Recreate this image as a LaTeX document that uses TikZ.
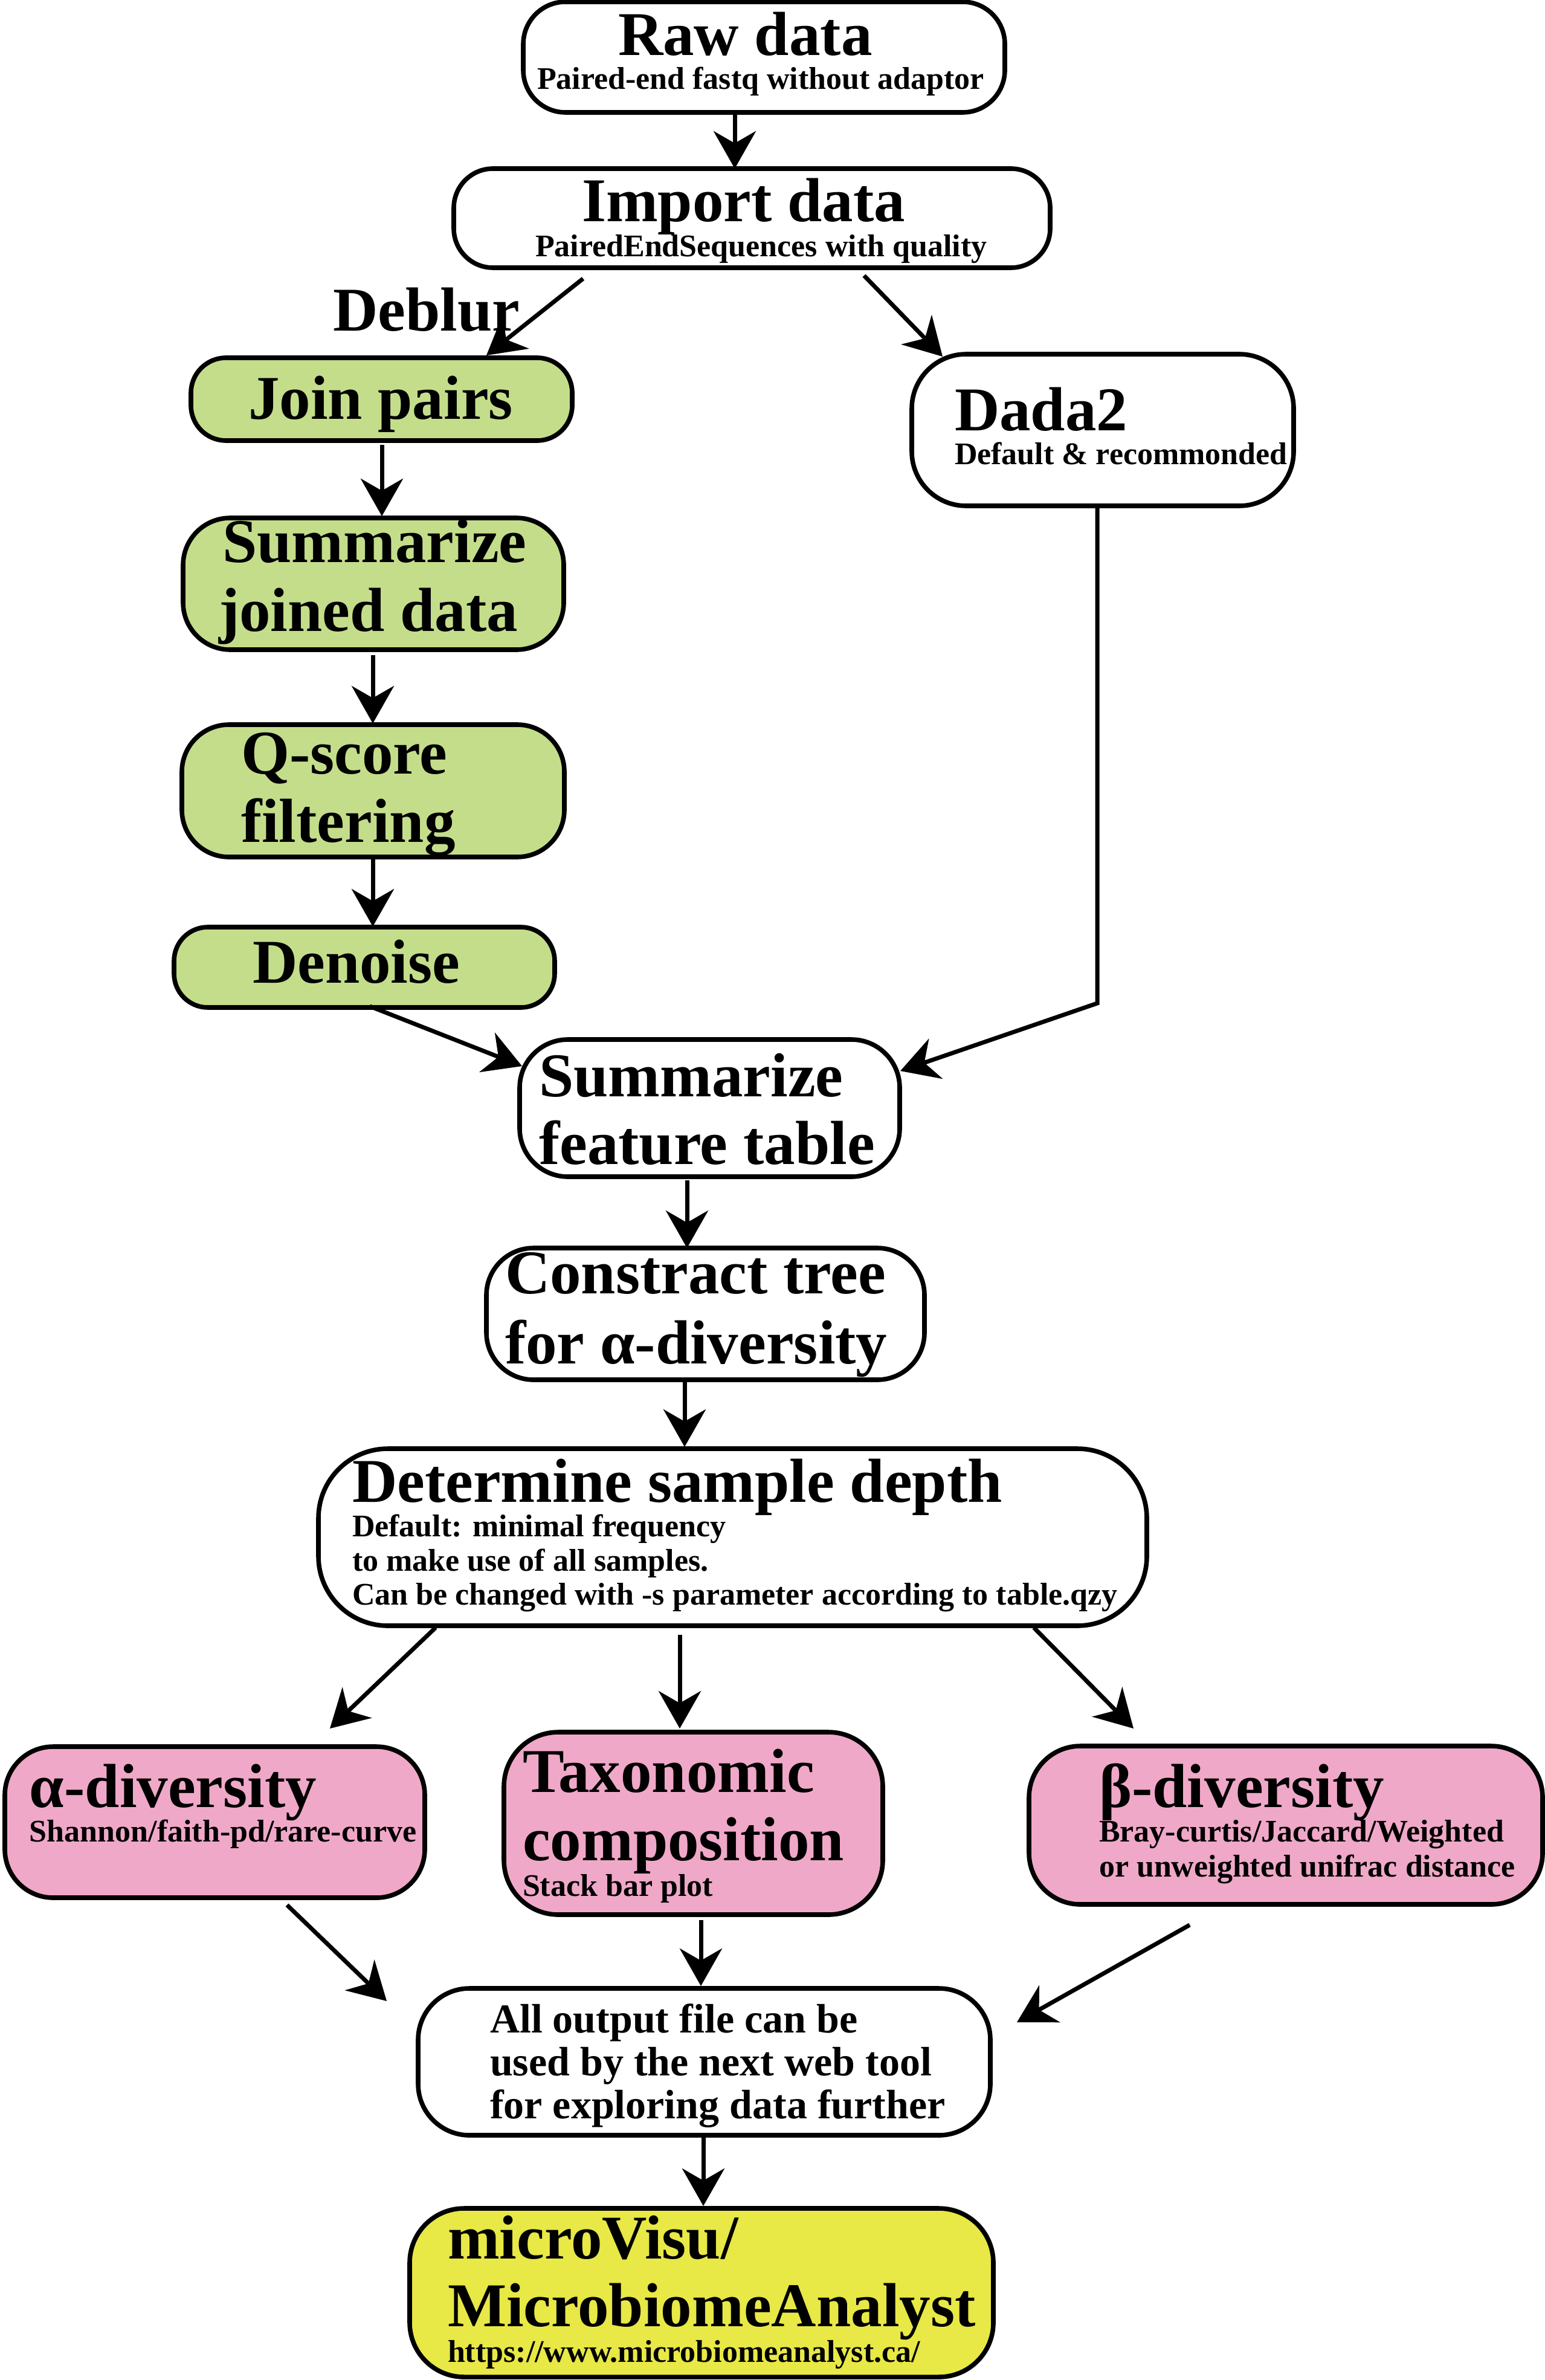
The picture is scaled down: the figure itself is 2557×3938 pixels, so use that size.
\documentclass[tikz,border=0pt]{standalone}
\usepackage{fontspec}
\setmainfont{Liberation Serif}
\usetikzlibrary{arrows.meta,calc}
\definecolor{boxgreen}{RGB}{196,221,139}
\definecolor{boxpink}{RGB}{240,168,200}
\definecolor{boxyellow}{RGB}{232,232,70}
\tikzset{
  box/.style={draw=black, line width=1.9pt, inner sep=0pt, outer sep=0pt, fill=white},
  ttl/.style={anchor=base west, inner sep=0pt, outer sep=0pt, font=\fontsize{25.75pt}{28pt}\selectfont\bfseries},
  sub/.style={anchor=base west, inner sep=0pt, outer sep=0pt, font=\fontsize{13pt}{14pt}\selectfont\bfseries},
  outt/.style={anchor=base west, inner sep=0pt, outer sep=0pt, font=\fontsize{17pt}{19pt}\selectfont\bfseries},
  conn/.style={line width=1.75pt, -{Stealth[length=15.5pt,width=17.5pt,inset=5pt]}},
  plainline/.style={line width=1.75pt}
}
\begin{document}
\begin{tikzpicture}[x=0.25pt,y=-0.25pt]
\useasboundingbox (0,0) rectangle (2557,3938);
% boxes
\node[box, rounded corners=17.5pt, minimum width=199.25pt, minimum height=45.75pt] (raw) at (1264.5,94.5) {};
\node[box, rounded corners=16.25pt, minimum width=246.75pt, minimum height=41pt] (imp) at (1244.5,361) {};
\node[box, fill=boxgreen, rounded corners=14.5pt, minimum width=157.75pt, minimum height=34.25pt] (join) at (631.5,660.5) {};
\node[box, fill=boxgreen, rounded corners=19.5pt, minimum width=157.5pt, minimum height=54.5pt] (sumj) at (618,966) {};
\node[box, fill=boxgreen, rounded corners=19.5pt, minimum width=158.25pt, minimum height=54.75pt] (qs) at (617.5,1308.5) {};
\node[box, fill=boxgreen, rounded corners=14pt, minimum width=157.5pt, minimum height=33.25pt] (den) at (603,1600.5) {};
\node[box, rounded corners=22.5pt, minimum width=158pt, minimum height=62.75pt] (dada) at (1825,711.5) {};
\node[box, rounded corners=20pt, minimum width=157.25pt, minimum height=56.75pt] (sft) at (1174.5,1833.5) {};
\node[box, rounded corners=19.5pt, minimum width=181.25pt, minimum height=54.5pt] (tree) at (1167.5,2174) {};
\node[box, rounded corners=28.75pt, minimum width=342.75pt, minimum height=73.25pt] (det) at (1212.5,2543.5) {};
\node[box, fill=boxpink, rounded corners=20pt, minimum width=173.75pt, minimum height=62.5pt] (alpha) at (355.5,3015) {};
\node[box, fill=boxpink, rounded corners=22.5pt, minimum width=156.75pt, minimum height=75.5pt] (tax) at (1147.5,3017) {};
\node[box, fill=boxpink, rounded corners=21.25pt, minimum width=212.5pt, minimum height=65.5pt] (beta) at (2128,3020) {};
\node[box, rounded corners=21.25pt, minimum width=236.75pt, minimum height=60.75pt] (out) at (1165.5,3411.5) {};
\node[box, fill=boxyellow, rounded corners=22.5pt, minimum width=241.5pt, minimum height=69.75pt] (mv) at (1161,3793.5) {};
% texts
\node[ttl] (tRaw) at (1023,92) {Raw data};
\node[sub] (sRaw) at (889,148) {Paired-end fastq without adaptor};
\node[ttl] (tImp) at (963,367) {Import data};
\node[sub] (sImp) at (886,425) {PairedEndSequences with quality};
\node[ttl] (tDeblur) at (551,547) {Deblur};
\node[ttl] (tJoin) at (411,693) {Join pairs};
\node[ttl] (tSumjA) at (368,930) {Summarize};
\node[ttl] (tSumjB) at (362,1044) {joined data};
\node[ttl] (tQsA) at (399,1280) {Q-score};
\node[ttl] (tQsB) at (399,1393) {filtering};
\node[ttl] (tDen) at (418,1626) {Denoise};
\node[ttl] (tDada) at (1580,712) {Dada2};
\node[sub] (sDada) at (1580,768) {Default \& recommonded};
\node[ttl] (tSftA) at (892,1814) {Summarize};
\node[ttl] (tSftB) at (892,1926) {feature table};
\node[ttl] (tTreeA) at (836,2140) {Constract tree};
\node[ttl] (tTreeB) at (836,2256) {for α-diversity};
\node[ttl] (tDet) at (583,2485) {Determine sample depth};
\node[sub] (sDetA) at (583,2542) {Default: minimal frequency};
\node[sub] (sDetB) at (583,2599) {to make use of all samples.};
\node[sub] (sDetC) at (583,2655) {Can be changed with -s parameter according to table.qzy};
\node[ttl] (tAlpha) at (49,2990) {α-diversity};
\node[sub] (sAlpha) at (49,3047) {Shannon/faith-pd/rare-curve};
\node[ttl] (tTaxA) at (865,2965) {Taxonomic};
\node[ttl] (tTaxB) at (865,3078) {composition};
\node[sub] (sTax) at (865,3137) {Stack bar plot};
\node[ttl] (tBeta) at (1819,2990) {β-diversity};
\node[sub] (sBetaA) at (1819,3047) {Bray-curtis/Jaccard/Weighted};
\node[sub] (sBetaB) at (1819,3105) {or unweighted unifrac distance};
\node[outt] (tOutA) at (811,3363) {All output file can be};
\node[outt] (tOutB) at (811,3434) {used by the next web tool};
\node[outt] (tOutC) at (811,3505) {for exploring data further};
\node[ttl] (tMvA) at (741,3737) {microVisu/};
\node[ttl] (tMvB) at (741,3849) {MicrobiomeAnalyst};
\node[sub] (sMv) at (741,3908) {https://www.microbiomeanalyst.ca/};
% connectors
\draw[conn] (1216,0 |- raw.south) -- (1216,0 |- imp.north);
\draw[conn] ($(imp.south)+(-279.5,18)$) -- ($(join.north)+(173.5,-4)$);
\draw[conn] ($(imp.south)+(185.5,13)$) -- ($(dada.north)+(-265,4)$);
\draw[conn] ($(join.south)+(0.5,7)$) -- ($(sumj.north)+(14,-3)$);
\draw[conn] ($(sumj.south)+(-1,9)$) -- ($(qs.north)+(-0.5,-2)$);
\draw[conn] ($(qs.south)+(-0.5,4)$) -- ($(den.north)+(14,-1)$);
\draw[conn] ($(den.south)+(9,-2)$) -- ($(sft.north west)+(4,44)$);
\coordinate (dk) at (1816,1660);
\draw[conn] ($(dada.south)+(-9,0)$) -- (dk) -- ($(sft.north east)+(1,52)$);
\draw[conn] ($(sft.south)+(-37.5,6)$) -- (1137,0 |- tree.north);
\draw[conn] ($(tree.south)+(-34.5,0)$) -- ($(det.north)+(-79.5,-3)$);
\draw[conn] ($(det.south)+(-491.5,3)$) -- ($(alpha.north)+(190.5,-30)$);
\draw[conn] ($(det.south)+(-87.5,15)$) -- ($(tax.north)+(-22.5,-6)$);
\draw[conn] ($(det.south)+(498.5,3)$) -- ($(beta.north)+(-252,-29)$);
\draw[conn] ($(alpha.south)+(119.5,12)$) -- ($(out.north west)+(-52,21)$);
\draw[conn] ($(tax.south)+(12.5,9)$) -- ($(out.north)+(-5.5,-4)$);
\draw[conn] ($(beta.south)+(-159,34)$) -- ($(out.north east)+(44,56)$);
\draw[conn] ($(out.south)+(-1.5,2)$) -- ($(mv.north)+(3,-4)$);
\end{tikzpicture}
\end{document}
